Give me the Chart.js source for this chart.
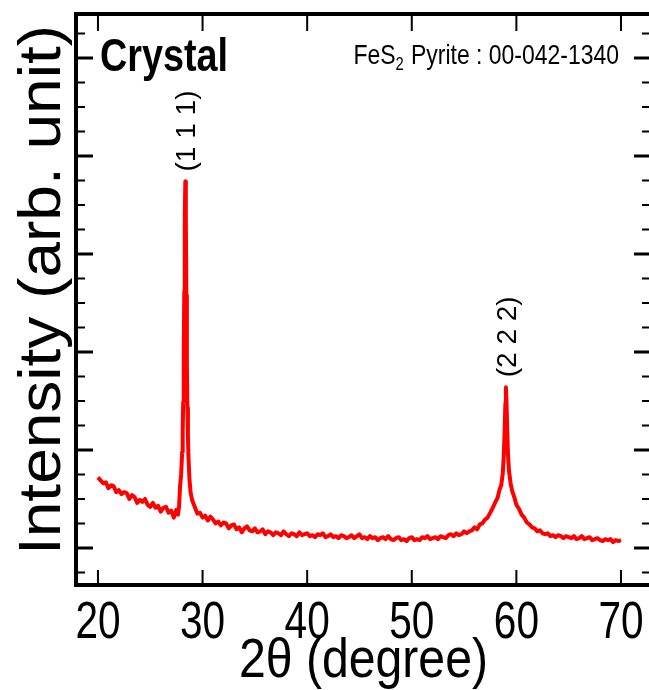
<!DOCTYPE html>
<html>
<head>
<meta charset="utf-8">
<script src="https://cdn.jsdelivr.net/npm/chart.js"></script>
<style>
    body {
        margin: 0;
        padding: 0;
        background: white;
        overflow: hidden;
    }
    .wrap {
        position: relative;
        width: 656px;
        height: 690px;
    }
</style>
</head>
<body>
<div class="wrap">
    <canvas id="xrd"></canvas>
</div>
<script>
    const twoTheta = [
        20.00, 20.25, 20.50, 20.75, 21.00, 21.25, 21.50, 21.75, 22.00, 22.25,
        22.50, 22.75, 23.00, 23.25, 23.50, 23.75, 24.00, 24.25, 24.50, 24.75,
        25.00, 25.25, 25.50, 25.75, 26.00, 26.25, 26.50, 26.75, 27.00, 27.25,
        27.50, 27.65, 27.75, 27.85, 27.95, 28.05, 28.10, 28.15, 28.20, 28.25,
        28.30, 28.35, 28.40, 28.45, 28.50, 28.55, 28.60, 28.65, 28.75, 28.85,
        29.00, 29.25, 29.50, 29.75, 30.00, 30.25, 30.50, 30.75, 31.00, 31.25,
        31.50, 31.75, 32.00, 32.25, 32.50, 32.75, 33.00, 33.25, 33.50, 33.75,
        34.00, 34.25, 34.50, 34.75, 35.00, 35.25, 35.50, 35.75, 36.00, 36.25,
        36.50, 36.75, 37.00, 37.25, 37.50, 37.75, 38.00, 38.25, 38.50, 38.75,
        39.00, 39.25, 39.50, 39.75, 40.00, 40.25, 40.50, 40.75, 41.00, 41.25,
        41.50, 41.75, 42.00, 42.25, 42.50, 42.75, 43.00, 43.25, 43.50, 43.75,
        44.00, 44.25, 44.50, 44.75, 45.00, 45.25, 45.50, 45.75, 46.00, 46.25,
        46.50, 46.75, 47.00, 47.25, 47.50, 47.75, 48.00, 48.25, 48.50, 48.75,
        49.00, 49.25, 49.50, 49.75, 50.00, 50.25, 50.50, 50.75, 51.00, 51.25,
        51.50, 51.75, 52.00, 52.25, 52.50, 52.75, 53.00, 53.25, 53.50, 53.75,
        54.00, 54.25, 54.50, 54.75, 55.00, 55.25, 55.50, 55.75, 56.00, 56.25,
        56.50, 56.75, 57.00, 57.25, 57.50, 57.75, 58.00, 58.20, 58.40, 58.55,
        58.70, 58.80, 58.88, 58.95, 59.00, 59.05, 59.12, 59.20, 59.30, 59.45,
        59.60, 59.80, 60.00, 60.25, 60.50, 60.75, 61.00, 61.25, 61.50, 61.75,
        62.00, 62.25, 62.50, 62.75, 63.00, 63.25, 63.50, 63.75, 64.00, 64.25,
        64.50, 64.75, 65.00, 65.25, 65.50, 65.75, 66.00, 66.25, 66.50, 66.75,
        67.00, 67.25, 67.50, 67.75, 68.00, 68.25, 68.50, 68.75, 69.00, 69.25,
        69.50, 69.75, 70.00
    ];
    const intensity = [
        0.72, 0.69, 0.66, 0.67, 0.61, 0.64, 0.63, 0.57, 0.59, 0.55,
        0.57, 0.56, 0.50, 0.54, 0.52, 0.46, 0.49, 0.47, 0.50, 0.44,
        0.42, 0.46, 0.41, 0.43, 0.37, 0.41, 0.42, 0.36, 0.38, 0.31,
        0.39, 0.34, 0.42, 0.63, 0.75, 0.98, 1.19, 1.49, 1.95, 2.62,
        3.38, 3.74, 3.36, 2.58, 1.90, 1.43, 1.14, 0.93, 0.70, 0.57,
        0.49, 0.42, 0.35, 0.36, 0.31, 0.33, 0.28, 0.32, 0.29, 0.25,
        0.27, 0.23, 0.26, 0.25, 0.20, 0.23, 0.24, 0.19, 0.21, 0.16,
        0.20, 0.22, 0.18, 0.17, 0.20, 0.16, 0.17, 0.19, 0.14, 0.17,
        0.16, 0.13, 0.16, 0.15, 0.13, 0.17, 0.14, 0.12, 0.15, 0.14,
        0.12, 0.16, 0.13, 0.14, 0.15, 0.12, 0.13, 0.11, 0.14, 0.13,
        0.15, 0.11, 0.12, 0.14, 0.11, 0.12, 0.10, 0.13, 0.12, 0.10,
        0.11, 0.13, 0.10, 0.12, 0.14, 0.10, 0.11, 0.09, 0.12, 0.10,
        0.11, 0.08, 0.10, 0.11, 0.09, 0.12, 0.09, 0.08, 0.10, 0.11,
        0.08, 0.09, 0.07, 0.10, 0.11, 0.08, 0.09, 0.08, 0.11, 0.10,
        0.12, 0.09, 0.10, 0.11, 0.09, 0.12, 0.11, 0.10, 0.13, 0.14,
        0.12, 0.15, 0.13, 0.14, 0.17, 0.15, 0.17, 0.18, 0.21, 0.19,
        0.24, 0.25, 0.29, 0.31, 0.36, 0.41, 0.47, 0.51, 0.60, 0.64,
        0.76, 0.95, 1.20, 1.48, 1.64, 1.52, 1.22, 0.95, 0.78, 0.66,
        0.58, 0.52, 0.44, 0.40, 0.34, 0.31, 0.26, 0.24, 0.21, 0.20,
        0.17, 0.18, 0.15, 0.14, 0.15, 0.12, 0.13, 0.11, 0.13, 0.12,
        0.10, 0.12, 0.11, 0.10, 0.12, 0.09, 0.10, 0.12, 0.09, 0.10,
        0.11, 0.08, 0.09, 0.10, 0.08, 0.07, 0.09, 0.08, 0.09, 0.06,
        0.08, 0.07, 0.08
    ];

    // tick labels on the 2theta axis, and the y axis tick values (no labels)
    const xTicks = [20, 30, 40, 50, 60, 70];
    const yMajorTicks = [0, 1, 2, 3, 4, 5];

    // peak indices
    const peakLabels = ['(1 1 1)', '(2 2 2)'];
    const peakTheta = [28.35, 59.0];
    const peakTop = [3.74, 1.64];

    const sans = "'Liberation Sans', Arial, sans-serif";

    const points = twoTheta.map((t, i) => ({ x: t, y: intensity[i] }));

    // the original figure has a condensed font, so squeeze the text sideways
    function narrowText(ctx, text, x, y, sx, align) {
        ctx.save();
        ctx.translate(x, y);
        ctx.scale(sx, 1);
        ctx.textAlign = align;
        ctx.fillText(text, 0, 0);
        ctx.restore();
    }

    // frame with inward ticks + all the text
    const framePlugin = {
        id: 'frame',
        afterDraw(chart) {
            const ctx = chart.ctx;
            const a = chart.chartArea;
            const xs = chart.scales.x;
            const ys = chart.scales.y;
            ctx.save();
            ctx.strokeStyle = '#000';
            ctx.fillStyle = '#000';

            // x ticks, top and bottom
            ctx.lineWidth = 2;
            xTicks.forEach(v => {
                const px = xs.getPixelForValue(v);
                ctx.beginPath();
                ctx.moveTo(px, a.bottom);
                ctx.lineTo(px, a.bottom - 15);
                ctx.moveTo(px, a.top);
                ctx.lineTo(px, a.top + 17);
                ctx.stroke();
            });

            // y ticks, major and minor, left and right
            for (let v = -0.25; v <= 5.3; v += 0.25) {
                const py = ys.getPixelForValue(v);
                const major = Math.abs(v - Math.round(v)) < 0.01;
                const len = major ? 17 : 9;
                ctx.lineWidth = major ? 3 : 2;
                ctx.beginPath();
                ctx.moveTo(a.left, py);
                ctx.lineTo(a.left + len, py);
                ctx.moveTo(a.right, py);
                ctx.lineTo(a.right - len, py);
                ctx.stroke();
            }

            // box
            ctx.lineWidth = 4;
            ctx.strokeRect(a.left, a.top, a.right - a.left, a.bottom - a.top);

            // x tick labels
            ctx.textBaseline = 'alphabetic';
            ctx.font = '52px ' + sans;
            xTicks.forEach(v => {
                narrowText(ctx, String(v), xs.getPixelForValue(v), 638, 0.78, 'center');
            });

            // x title
            ctx.font = '56px ' + sans;
            narrowText(ctx, '2θ (degree)', xs.getPixelForValue(45) + 4, 677, 0.86, 'center');

            // y title, rotated
            ctx.save();
            ctx.translate(60, 290);
            ctx.rotate(-Math.PI / 2);
            ctx.scale(1, 0.92);
            ctx.font = '64px ' + sans;
            ctx.textAlign = 'center';
            ctx.fillText('Intensity (arb. unit)', 0, 0);
            ctx.restore();

            // sample name
            ctx.font = 'bold 46px ' + sans;
            narrowText(ctx, 'Crystal', a.left + 24, a.top + 57, 0.82, 'left');

            // reference card, right aligned, with subscript 2
            const sx = 0.82;
            const base = a.top + 50;
            ctx.font = '28px ' + sans;
            const w1 = ctx.measureText('FeS').width;
            const w3 = ctx.measureText(' Pyrite : 00-042-1340').width;
            ctx.font = '18px ' + sans;
            const w2 = ctx.measureText('2').width + 1;
            let x = 619 - (w1 + w2 + w3) * sx;
            ctx.font = '28px ' + sans;
            narrowText(ctx, 'FeS', x, base, sx, 'left');
            x += w1 * sx;
            ctx.font = '18px ' + sans;
            narrowText(ctx, '2', x, base + 6, sx, 'left');
            x += w2 * sx;
            ctx.font = '28px ' + sans;
            narrowText(ctx, ' Pyrite : 00-042-1340', x, base, sx, 'left');

            // peak indices, rotated
            ctx.font = '28px ' + sans;
            ctx.textBaseline = 'middle';
            peakLabels.forEach((lab, i) => {
                const px = xs.getPixelForValue(peakTheta[i]) + 2;
                const py = ys.getPixelForValue(peakTop[i]) - 10;
                ctx.save();
                ctx.translate(px, py);
                ctx.rotate(-Math.PI / 2);
                ctx.textAlign = 'left';
                ctx.fillText(lab, 0, 0);
                ctx.restore();
            });
            ctx.restore();
        }
    };

    const config = {
        type: 'line',
        data: {
            datasets: [{
                data: points,
                borderColor: 'rgb(255, 0, 0)',
                borderWidth: 4,
                borderJoinStyle: 'round',
                pointRadius: 0,
                tension: 0,
                fill: false
            }]
        },
        options: {
            responsive: true,
            maintainAspectRatio: false,
            animation: false,
            events: [],
            layout: { padding: { left: 0, right: 5, top: 14, bottom: 0 } },
            plugins: {
                legend: { display: false },
                tooltip: { enabled: false }
            },
            scales: {
                x: {
                    type: 'linear',
                    min: 17.9,
                    max: 72.87,
                    grid: { display: false, drawTicks: false },
                    border: { display: false },
                    afterBuildTicks: s => { s.ticks = xTicks.map(v => ({ value: v })); },
                    afterFit: s => { s.height = 105; },
                    ticks: { display: false }
                },
                y: {
                    min: -0.378,
                    max: 5.449,
                    grid: { display: false, drawTicks: false },
                    border: { display: false },
                    afterBuildTicks: s => { s.ticks = yMajorTicks.map(v => ({ value: v })); },
                    afterFit: s => { s.width = 76; },
                    ticks: { display: false }
                }
            }
        },
        plugins: [framePlugin]
    };

    new Chart(document.getElementById('xrd'), config);
</script>
</body>
</html>
